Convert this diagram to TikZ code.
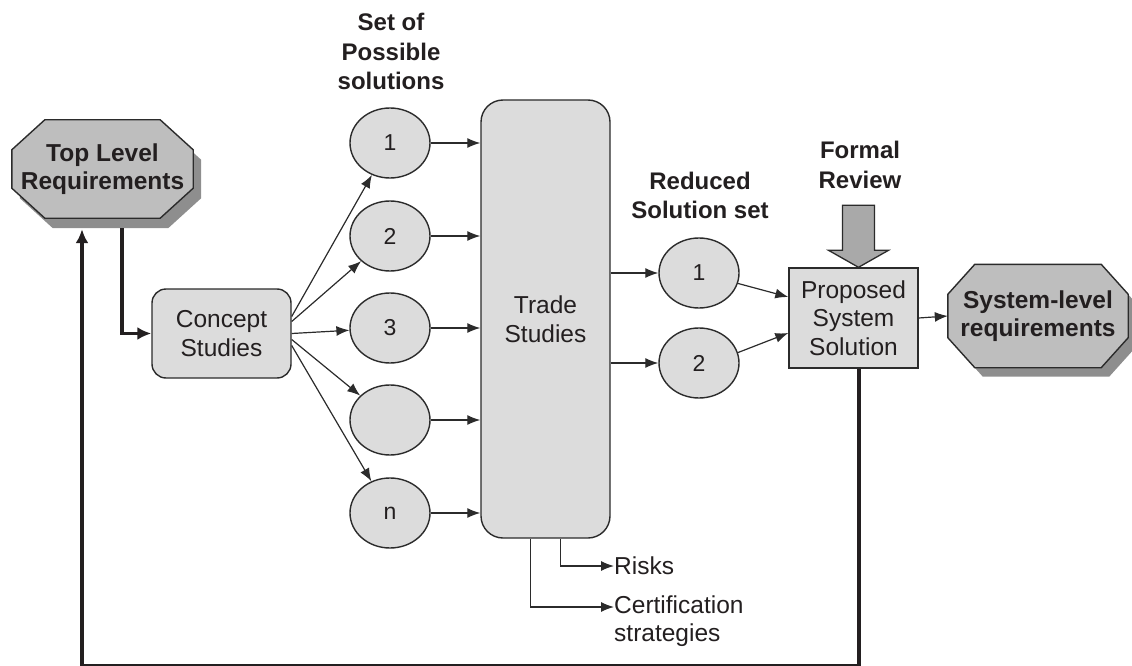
\documentclass[tikz,border=0pt]{standalone}
\usepackage{fontspec}
\setmainfont{Liberation Sans}
\usetikzlibrary{arrows.meta,shapes.geometric,calc,backgrounds}

\definecolor{ink}{HTML}{231F20}
\definecolor{edge}{HTML}{2B2B2B}
\definecolor{boxfill}{HTML}{DCDCDC}
\definecolor{octfill}{HTML}{BEBEBE}
\definecolor{octshade}{HTML}{8E8E8E}
\definecolor{bigarrow}{HTML}{A9A9A9}

% chamfered outline around node #1, chamfer #2 x #3, shifted by (#4,#5)
\newcommand\octoutline[5]{%
  ($(#1.north west)+(#2+#4,#5)$) -- ($(#1.north east)+(-#2+#4,#5)$) --
  ($(#1.north east)+(#4,#3+#5)$) -- ($(#1.south east)+(#4,-#3+#5)$) --
  ($(#1.south east)+(-#2+#4,#5)$) -- ($(#1.south west)+(#2+#4,#5)$) --
  ($(#1.south west)+(#4,-#3+#5)$) -- ($(#1.north west)+(#4,#3+#5)$) -- cycle}

\begin{document}
\begin{tikzpicture}[x=1pt,y=-1pt,
  txt/.style={font=\fontsize{24.5}{28.5}\selectfont, text=ink, align=center, inner sep=0pt},
  hdr/.style={font=\fontsize{24}{29.5}\selectfont\bfseries, text=ink, align=center, inner sep=0pt},
  octnode/.style={hdr, font=\fontsize{24.5}{28}\selectfont\bfseries},
  softbox/.style={draw=edge, fill=boxfill, line width=1.4pt, rounded corners=14pt, txt},
  plainbox/.style={draw=edge, fill=boxfill, line width=1.4pt, txt},
  sol/.style={ellipse, draw=edge, fill=boxfill, line width=1.4pt, minimum width=80pt,
              minimum height=70pt, inner sep=0pt, font=\fontsize{23}{26}\selectfont, text=ink},
  link/.style={draw=edge, line width=1.2pt, -{Latex[length=13pt,width=10pt]}},
  heavy/.style={draw=ink, line width=3.6pt, -{Latex[length=14pt,width=13pt]}},
  octedge/.style={draw=edge, fill=octfill, line width=1.4pt},
  octshadow/.style={fill=octshade},
]
\useasboundingbox (0,0) rectangle (1132,666);

% headings
\node[hdr] (sethdr) at (391,51.5) {Set of\\Possible\\solutions};
\node[hdr] (redhdr) at (700,195.5) {Reduced\\Solution set};
\node[hdr] (revhdr) at (860,165) {Formal\\Review};

% chamfered requirement blocks
\node[octnode, minimum width=181pt, minimum height=98pt] (tlr) at (102.5,169) {Top Level\\Requirements};
\node[octnode, minimum width=180pt, minimum height=103pt] (slr) at (1038,316) {System-level\\requirements};
\begin{scope}[on background layer]
  \fill[octshadow] \octoutline{tlr}{33}{30}{8}{10};
  \path[octedge] \octoutline{tlr}{33}{30}{0}{0};
  \fill[octshadow] \octoutline{slr}{27}{30}{8}{9};
  \path[octedge] \octoutline{slr}{27}{30}{0}{0};
\end{scope}

% process boxes
\node[softbox, minimum width=139pt, minimum height=89pt] (concept) at (221.5,333.5) {Concept\\Studies};
\node[softbox, rounded corners=22pt, minimum width=129pt, minimum height=438pt] (trade) at (545.5,319) {Trade\\Studies};
\node[plainbox, minimum width=129pt, minimum height=100pt] (prop) at (853.5,318) {Proposed\\System\\Solution};

% possible solutions
\node[sol] (c1) at (390,143) {1};
\node[sol] (c2) at (390,236) {2};
\node[sol] (c3) at (390,328) {3};
\node[sol] (c4) at (390,420) {};
\node[sol] (c5) at (390,513) {n};

% reduced solution set
\node[sol] (r1) at (699,273) {1};
\node[sol] (r2) at (699,363) {2};

% trade study outputs
\node[txt, anchor=west] (risks) at (614,566) {Risks};
\node[txt, anchor=west, align=left] (cert) at (614,621) {Certification\\strategies};

% fan out of concept studies
\draw[link] ($(concept.east)+(0,-17)$) -- (c1);
\draw[link] ($(concept.east)+(0,-12)$) -- (c2);
\draw[link] (concept.east) -- (c3);
\draw[link] ($(concept.east)+(0,6)$) -- (c4);
\draw[link] ($(concept.east)+(0,12)$) -- (c5);

% candidates into trade studies
\foreach \c in {c1,c2,c3,c4,c5}
  \draw[link] (\c.east) -- (\c.east -| trade.west);

% trade studies into reduced set
\draw[link] (trade.east |- r1) -- (r1.west);
\draw[link] (trade.east |- r2) -- (r2.west);

% reduced set into proposed solution
\draw[link] (r1.-15) -- ([yshift=21pt]prop.west);
\draw[link] (r2.15) -- ([yshift=-15pt]prop.west);

% proposed solution to system-level requirements
\draw[link] (prop.east) -- (slr.west);

% side outputs of trade studies
\draw[link] ($(trade.south)+(15,0)$) |- (risks.west);
\draw[link] ($(trade.south)+(-15,0)$) |- ([yshift=14pt]cert.west);

% formal review arrow
\path[draw=edge, fill=bigarrow, line width=1.3pt]
  ($(prop.north)+(-11,-62)$) -- ($(prop.north)+(21,-62)$) -- ($(prop.north)+(21,-17)$) --
  ($(prop.north)+(35,-17)$) -- ($(prop.north)+(5,0)$) -- ($(prop.north)+(-25,-17)$) --
  ($(prop.north)+(-11,-17)$) -- cycle;

% requirements flow and feedback loop
\draw[heavy] ($(tlr.south)+(19.5,10)$) |- (concept.west);
\draw[heavy] ([xshift=5.5pt]prop.south) -- ++(0,297) -| ($(tlr.south)+(-20.5,11)$);
\end{tikzpicture}
\end{document}
